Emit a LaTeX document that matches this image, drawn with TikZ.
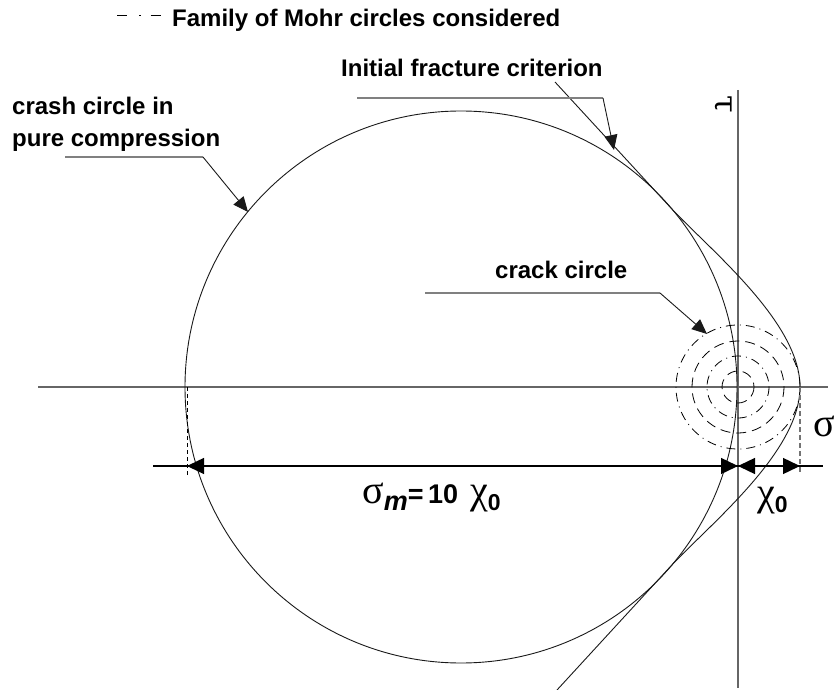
\documentclass[tikz,border=0pt]{standalone}
\usepackage{fontspec}
\setmainfont{Liberation Sans}
\newfontfamily\greekfont{Liberation Serif}
\newfontfamily\taufont{DejaVu Serif}
\usetikzlibrary{arrows.meta}
\newcommand{\mohrLbl}[2]{{\fontsize{#1}{#1}\selectfont\bfseries #2}}
\newcommand{\mohrGr}[2]{{\fontsize{#1}{#1}\selectfont\greekfont #2}}

\begin{document}
\begin{tikzpicture}[x=1pt,y=-1pt,
  lbl/.style={anchor=base west, inner sep=0pt},
  axis/.style={draw=black!60, line width=1.2pt},
  curve/.style={draw=black!90, line width=0.9pt},
  leader/.style={draw=black!50, line width=1.1pt},
  tip/.style={-{Triangle[length=15pt,width=13pt]}},
  dim/.style={line width=1.4pt},
  dimtip/.style={{Triangle[length=17pt,width=16pt]}-{Triangle[length=17pt,width=16pt]}},
  famA/.style={dash pattern=on 9pt off 5pt on 1pt off 5pt, line width=0.8pt},
  famB/.style={dash pattern=on 10pt off 6pt, line width=0.8pt}]
\useasboundingbox (0,0) rectangle (836,690);

% axes
\coordinate (O) at (738,387);
\coordinate (sigA) at (38,387);
\coordinate (sigB) at (828,387);
\coordinate (tauA) at (738,90);
\coordinate (tauB) at (738,688);
\draw[axis] (sigA) -- (sigB);
\draw[axis] (tauA) -- (tauB);
\node[rotate=-90, inner sep=0pt] (taulabel) at (723,104) {{\fontsize{32}{32}\selectfont\taufont τ}};
\node[inner sep=0pt] (siglabel) at (824,426) {\mohrGr{40}{σ}};

% crash circle and envelope
\coordinate (C) at (461,387);
\draw[curve] (C) circle[radius=276];
\draw[curve] (555,82) -- (670,207) .. controls (710,250) and (800,322) .. (800,387)
  .. controls (800,452) and (710,524) .. (670,567) -- (557,690);

% family of Mohr circles
\foreach \r/\s in {62/famA, 46/famB, 31/famA, 16/famB}
  \draw[\s] (O) circle[radius=\r];

% legend
\coordinate (legA) at (117,15);
\coordinate (legB) at (161,15);
\draw[line width=0.9pt, dash pattern=on 10pt off 12pt on 1.5pt off 10pt on 11pt] (legA) -- (legB);
\node[lbl] (famlabel) at (172,27) {\mohrLbl{24}{Family of Mohr circles considered}};

% labels and leaders
\node[lbl] (critlabel) at (341,77) {\mohrLbl{24}{Initial fracture criterion}};
\coordinate (critA) at (357,98);
\coordinate (critB) at (603,98);
\coordinate (critT) at (614,150);
\draw[leader] (critA) -- (critB);
\draw[curve, tip] (critB) -- (critT);

\node[lbl] (crashlabel) at (12,115) {\mohrLbl{24}{crash circle in}};
\node[lbl] (crashlabelb) at (12,147) {\mohrLbl{24}{pure compression}};
\coordinate (crashA) at (65,157);
\coordinate (crashB) at (203,157);
\coordinate (crashT) at (248,212);
\draw[leader] (crashA) -- (crashB);
\draw[curve, tip] (crashB) -- (crashT);

\node[lbl] (cracklabel) at (495,278) {\mohrLbl{24}{crack circle}};
\coordinate (crackA) at (425,293);
\coordinate (crackB) at (660,293);
\coordinate (crackT) at (707,334);
\draw[leader] (crackA) -- (crackB);
\draw[curve, tip] (crackB) -- (crackT);

% dimensions
\coordinate (dimA) at (153,466);
\coordinate (dimB) at (823,466);
\coordinate (xL) at (187,466);
\coordinate (xO) at (738,466);
\coordinate (xN) at (800,466);
\coordinate (tickL) at (187,387);
\coordinate (tickN) at (800,387);
\draw[dim] (dimA) -- (dimB);
\draw[dim, dimtip] (xL) -- (xO);
\draw[dim, dimtip] (xO) -- (xN);
\draw[line width=0.9pt, dash pattern=on 4pt off 3pt] (tickL) -- ++(0,89);
\draw[black!55, line width=1.4pt, dash pattern=on 5pt off 3pt] (tickN) -- ++(0,87);

\node[lbl] (sigmlabel) at (362,503) {\mohrGr{40}{σ}\raisebox{-7pt}{\mohrLbl{27}{\itshape m}}\mohrLbl{27}{=\,10\hspace{12pt}}\mohrGr{40}{χ}\raisebox{-7pt}{\mohrLbl{23}{0}}};
\node[lbl] (chilabel) at (757,505) {\mohrGr{40}{χ}\raisebox{-7pt}{\mohrLbl{23}{0}}};
\end{tikzpicture}
\end{document}
